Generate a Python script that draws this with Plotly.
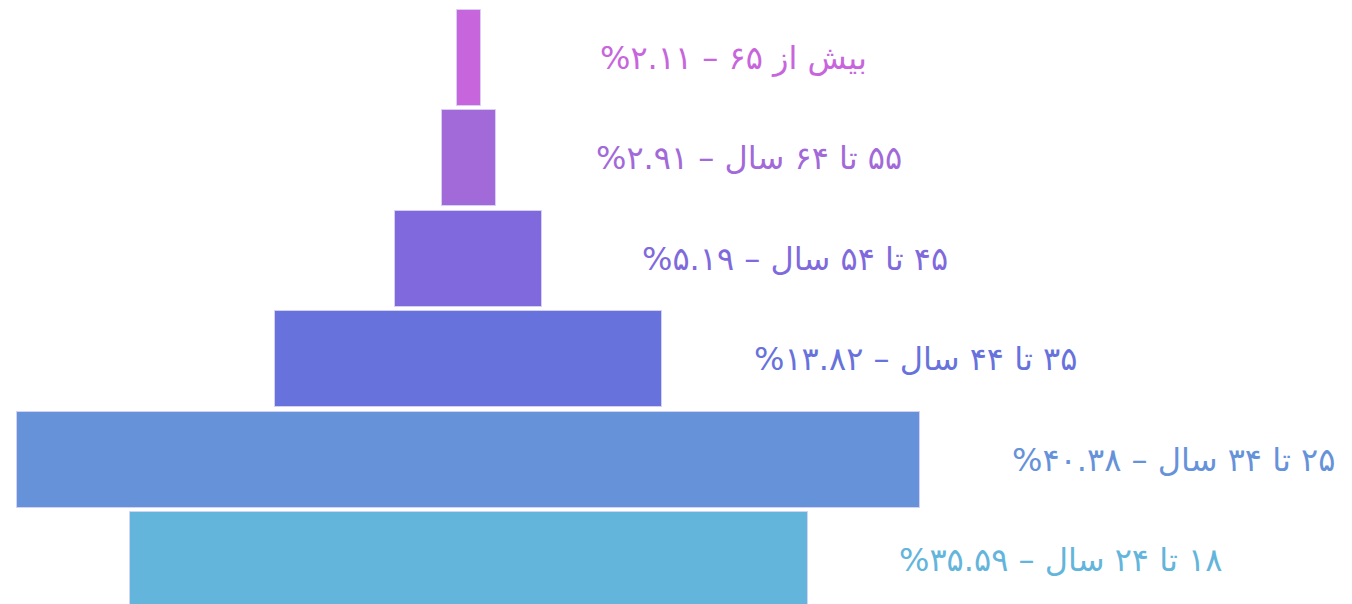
import plotly.graph_objects as go

# age groups, top (oldest) to bottom
labels = [
    "بیش از ۶۵ – ۲.۱۱%",
    "۵۵ تا ۶۴ سال – ۲.۹۱%",
    "۴۵ تا ۵۴ سال – ۵.۱۹%",
    "۳۵ تا ۴۴ سال – ۱۳.۸۲%",
    "۲۵ تا ۳۴ سال – ۴۰.۳۸%",
    "۱۸ تا ۲۴ سال – ۳۵.۵۹%",
]
shares = [2.11, 2.91, 5.19, 13.82, 40.38, 35.59]
# drawn bar sizes (relative units)
bar_sizes = [24, 54, 147, 387, 903, 678]
colors = ["#C766DC", "#A269D9", "#8069DC", "#6772DC", "#6692DA", "#63B5DB"]

rows = list(range(len(labels)))
RLM = "\u200f"

fig = go.Figure()
fig.add_trace(go.Bar(
    y=rows,
    x=bar_sizes,
    base=[-s / 2 for s in bar_sizes],
    orientation="h",
    width=0.955,
    marker=dict(color=colors, line=dict(color="rgba(215,210,245,0.9)", width=1)),
    customdata=shares,
    hovertemplate="%{customdata}%<extra></extra>",
    showlegend=False,
))

for i, (txt, size, col) in enumerate(zip(labels, bar_sizes, colors)):
    fig.add_annotation(
        x=size / 2 + 253, y=i,
        text=RLM + txt + RLM,
        showarrow=False,
        xanchor="center", yanchor="middle",
        font=dict(family="DejaVu Sans", size=32, color=col),
    )

fig.update_layout(
    width=1352,
    height=604,
    margin=dict(l=0, r=0, t=0, b=0),
    paper_bgcolor="white",
    plot_bgcolor="white",
    xaxis=dict(range=[-460.5, 891.5], visible=False, fixedrange=True),
    yaxis=dict(range=[5.518, -0.498], visible=False, fixedrange=True),
    bargap=0,
)

fig.write_html("out.html")
